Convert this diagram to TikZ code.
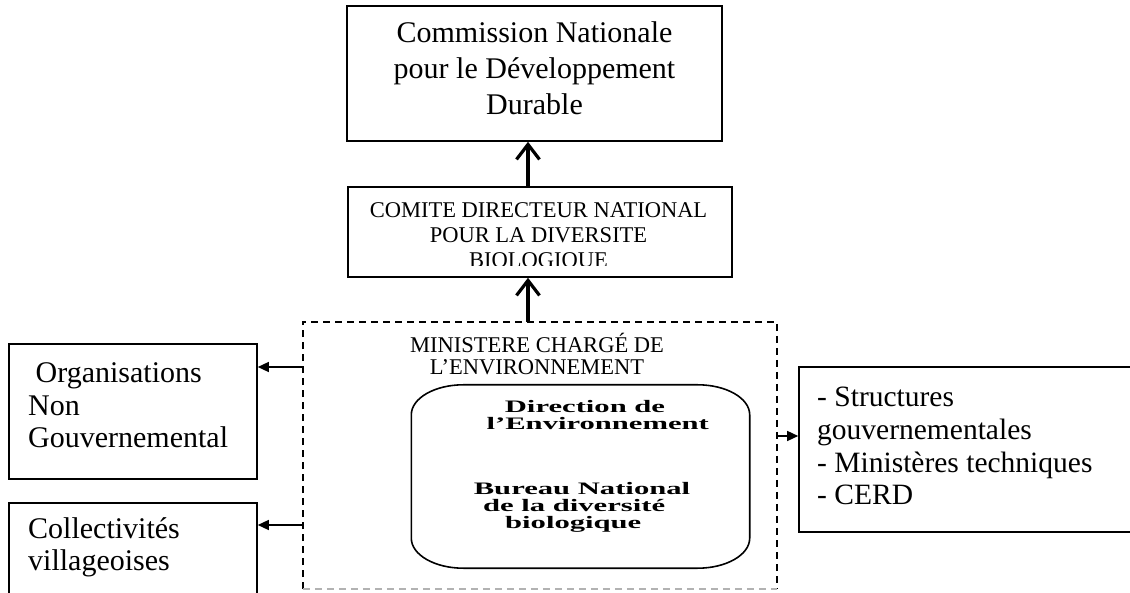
\documentclass[tikz,border=0pt]{standalone}
\usepackage{fontspec}
\setmainfont{Liberation Serif}
\usepackage{graphicx}
\usetikzlibrary{arrows.meta}
\newcommand\mystackc[2]{\vtop{\baselineskip=#1\relax\lineskiplimit=-\maxdimen\lineskip=0pt\halign{\hfil##\hfil\cr#2\crcr}}}
\newcommand\mystackl[2]{\vtop{\baselineskip=#1\relax\lineskiplimit=-\maxdimen\lineskip=0pt\halign{##\hfil\cr#2\crcr}}}
\begin{document}
\begin{tikzpicture}[x=1pt,y=1pt,
  solidbox/.style={draw, line width=1.6pt, inner sep=0pt},
  plainbox/.style={inner sep=0pt},
  txt/.style={inner sep=0pt, anchor=base},
  txtl/.style={inner sep=0pt, anchor=base west},
  dashbox/.style={line width=1.5pt, dash pattern=on 7pt off 5pt},
  uparrow/.style={line width=3.2pt, -{Straight Barb[length=15pt,width=23pt]}},
  sidearrow/.style={line width=1.4pt, -{Triangle[length=11pt,width=10pt]}}
]
\useasboundingbox (0,0) rectangle (1130,592);
\clip (0,0) rectangle (1130,592);

% top box
\node[solidbox, minimum width=375pt, minimum height=135pt] (cndd) at (534.5,518.5) {};
\node[txt, font=\fontsize{30}{36}\selectfont] (cnddtxt) at (534.5,549)
  {\mystackc{36pt}{Commission Nationale\cr pour le Développement\cr Durable}};

% middle box
\node[solidbox, minimum width=384pt, minimum height=90pt] (cdn) at (540,360) {};
\begin{scope}
\clip (348,326) rectangle (732,405);
\node[txt, font=\fontsize{22.5}{25}\selectfont] (cdntxt) at (538.5,374)
  {\mystackc{25pt}{COMITE DIRECTEUR NATIONAL\cr POUR LA DIVERSITE\cr BIOLOGIQUE}};
\end{scope}

% ministry (dashed)
\node[plainbox, minimum width=474pt, minimum height=267pt] (min) at (540,136.5) {};
\draw[dashbox] (min.south west) -- (min.north west) -- (min.north east) -- (min.south east);
\draw[dashbox, black!30] (min.south west) -- (min.south east);
\node[txt, font=\fontsize{22.5}{22}\selectfont] (minlbl) at (537,239)
  {\mystackc{22pt}{MINISTERE CHARGÉ DE\cr L’ENVIRONNEMENT}};

% rounded box
\node[plainbox, minimum width=338pt, minimum height=183pt] (dir) at (580.5,115.5) {};
\draw[line width=1.6pt] ([xshift=52pt]dir.north west) -- ([xshift=-52pt]dir.north east)
  arc[start angle=90, end angle=0, x radius=52pt, y radius=30pt]
  -- ([yshift=30pt]dir.south east)
  arc[start angle=0, end angle=-90, x radius=52pt, y radius=30pt]
  -- ([xshift=52pt]dir.south west)
  arc[start angle=270, end angle=180, x radius=52pt, y radius=30pt]
  -- ([yshift=-30pt]dir.north west)
  arc[start angle=180, end angle=90, x radius=52pt, y radius=30pt] -- cycle;
\node[txt, font=\fontsize{17.5}{17}\selectfont\bfseries] (dirtxt) at (582,179)
  {\scalebox{1.75}[1]{\mystackc{17pt}{\hspace*{3.4pt}Direction de\cr\hspace*{18pt}l’Environnement\cr\noalign{\vskip 48pt}Bureau National\cr de la diversité\hspace*{9pt}\cr biologique\hspace*{10pt}}}};

% left boxes
\node[solidbox, minimum width=248pt, minimum height=135pt] (ong) at (133,180.5) {};
\node[txtl, font=\fontsize{30}{32.5}\selectfont] (ongtxt) at (28,209)
  {\mystackl{32.5pt}{\hspace*{7.5pt}Organisations\cr Non\cr Gouvernemental}};
\node[solidbox, minimum width=248pt, minimum height=99pt] (coll) at (133,39.5) {};
\node[txtl, font=\fontsize{30}{32}\selectfont] (colltxt) at (28,54)
  {\mystackl{32pt}{Collectivités\cr villageoises}};

% right box
\node[solidbox, minimum width=341pt, minimum height=165pt] (struct) at (969.5,142.5) {};
\node[txtl, font=\fontsize{29.5}{32.8}\selectfont] (structtxt) at (817,185.5)
  {\mystackl{32.8pt}{- Structures\cr gouvernementales\cr - Ministères techniques\cr - CERD}};

% arrows
\draw[uparrow] ([xshift=-12pt]cdn.north) -- ([xshift=-12pt]cdn.north |- cndd.south);
\draw[uparrow] ([xshift=-12pt]min.north) -- ([xshift=-12pt]min.north |- cdn.south);
\draw[sidearrow] ([yshift=44.5pt]ong.east -| min.west) -- ([yshift=44.5pt]ong.east);
\draw[sidearrow] ([yshift=27.5pt]coll.east -| min.west) -- ([yshift=27.5pt]coll.east);
\draw[sidearrow] ([yshift=13.5pt]struct.west -| min.east) -- ([yshift=13.5pt]struct.west);
\end{tikzpicture}
\end{document}
